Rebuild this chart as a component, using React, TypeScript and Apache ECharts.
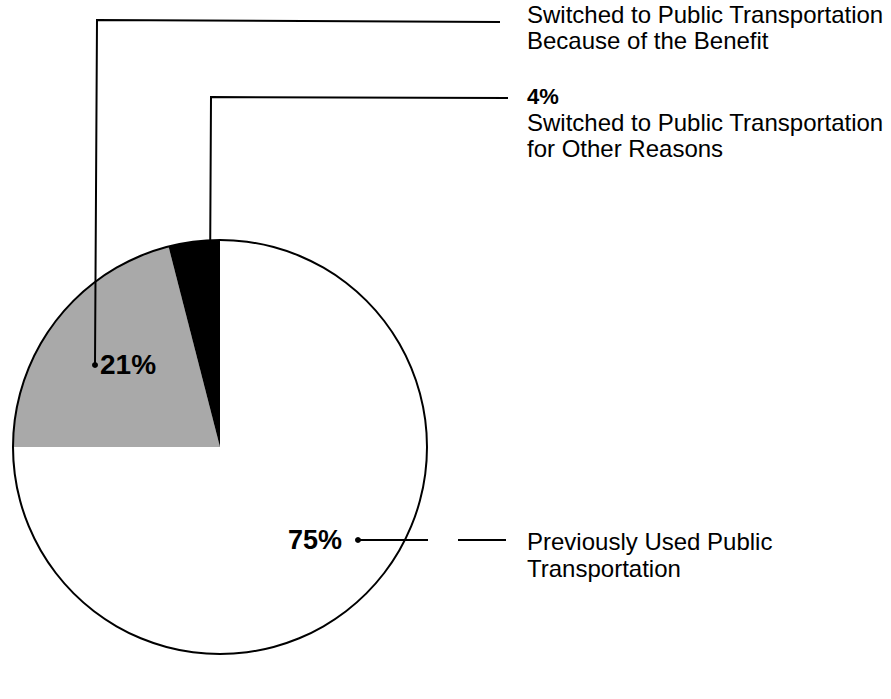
import React, { useEffect, useRef } from "react";
import * as echarts from "echarts";

const categories = [
  "Previously Used Public Transportation",
  "Switched to Public Transportation Because of the Benefit",
  "Switched to Public Transportation for Other Reasons",
];
const values = [75, 21, 4];
const labelLines = [
  ["Previously Used Public", "Transportation"],
  ["Switched to Public Transportation", "Because of the Benefit"],
  ["Switched to Public Transportation", "for Other Reasons"],
];

const FONT = "'Liberation Sans', Arial, Helvetica, sans-serif";

export default function App() {
  const ref = useRef<HTMLDivElement>(null);
  useEffect(() => {
    document.body.style.margin = "0";
    const chart = echarts.init(ref.current!, null, { renderer: "svg" });
    const cx = 220;
    const cy = 447;
    const R = 207;
    const sliceColors = ["#ffffff", "#a9a9a9", "#000000"];
    const lineStyle = { stroke: "#000", lineWidth: 2, fill: "none" };
    const dot = (x: number, y: number) => ({
      type: "circle",
      z: 20,
      shape: { cx: x, cy: y, r: 3 },
      style: { fill: "#000" },
    });
    const txt = (x: number, y: number, text: string, size: number, bold = false) => ({
      type: "text",
      z: 20,
      x,
      y,
      style: {
        text,
        fill: "#000",
        font: `${bold ? "bold " : ""}${size}px ${FONT}`,
        textVerticalAlign: "middle",
      },
    });
    const pl = (points: number[][]) => ({
      type: "polyline",
      z: 20,
      shape: { points },
      style: lineStyle,
    });
    chart.setOption({
      animation: false,
      backgroundColor: "#fff",
      series: [
        {
          type: "pie",
          center: [cx, cy],
          radius: [0, R],
          startAngle: 90,
          clockwise: true,
          silent: true,
          z: 1,
          label: { show: false },
          labelLine: { show: false },
          data: categories.map((name, i) => ({
            name,
            value: values[i],
            itemStyle: { color: sliceColors[i], borderWidth: 0 },
          })),
        },
        {
          type: "pie",
          center: [cx, cy],
          radius: [R - 1, R + 1],
          silent: true,
          z: 2,
          label: { show: false },
          labelLine: { show: false },
          data: [{ value: 1, itemStyle: { color: "#000" } }],
        },
      ],
      graphic: [
        // 21% leader
        pl([[95, 365], [97, 20], [500, 22]]),
        dot(95, 365),
        txt(100, 364, `${values[1]}%`, 28, true),
        txt(527, 14, labelLines[1][0], 24),
        txt(527, 40, labelLines[1][1], 24),
        // 4% leader
        pl([[210, 284], [211, 97], [508, 98]]),
        dot(210, 284),
        txt(527, 96, `${values[2]}%`, 22, true),
        txt(527, 122, labelLines[2][0], 24),
        txt(527, 148, labelLines[2][1], 24),
        // 75% leader
        txt(288, 540, `${values[0]}%`, 27, true),
        dot(358, 540),
        pl([[358, 540], [428, 540]]),
        pl([[458, 540], [506, 540]]),
        txt(527, 541, labelLines[0][0], 24),
        txt(527, 568, labelLines[0][1], 24),
      ],
    });
    return () => chart.dispose();
  }, []);
  return <div ref={ref} style={{ width: 891, height: 699 }} />;
}
